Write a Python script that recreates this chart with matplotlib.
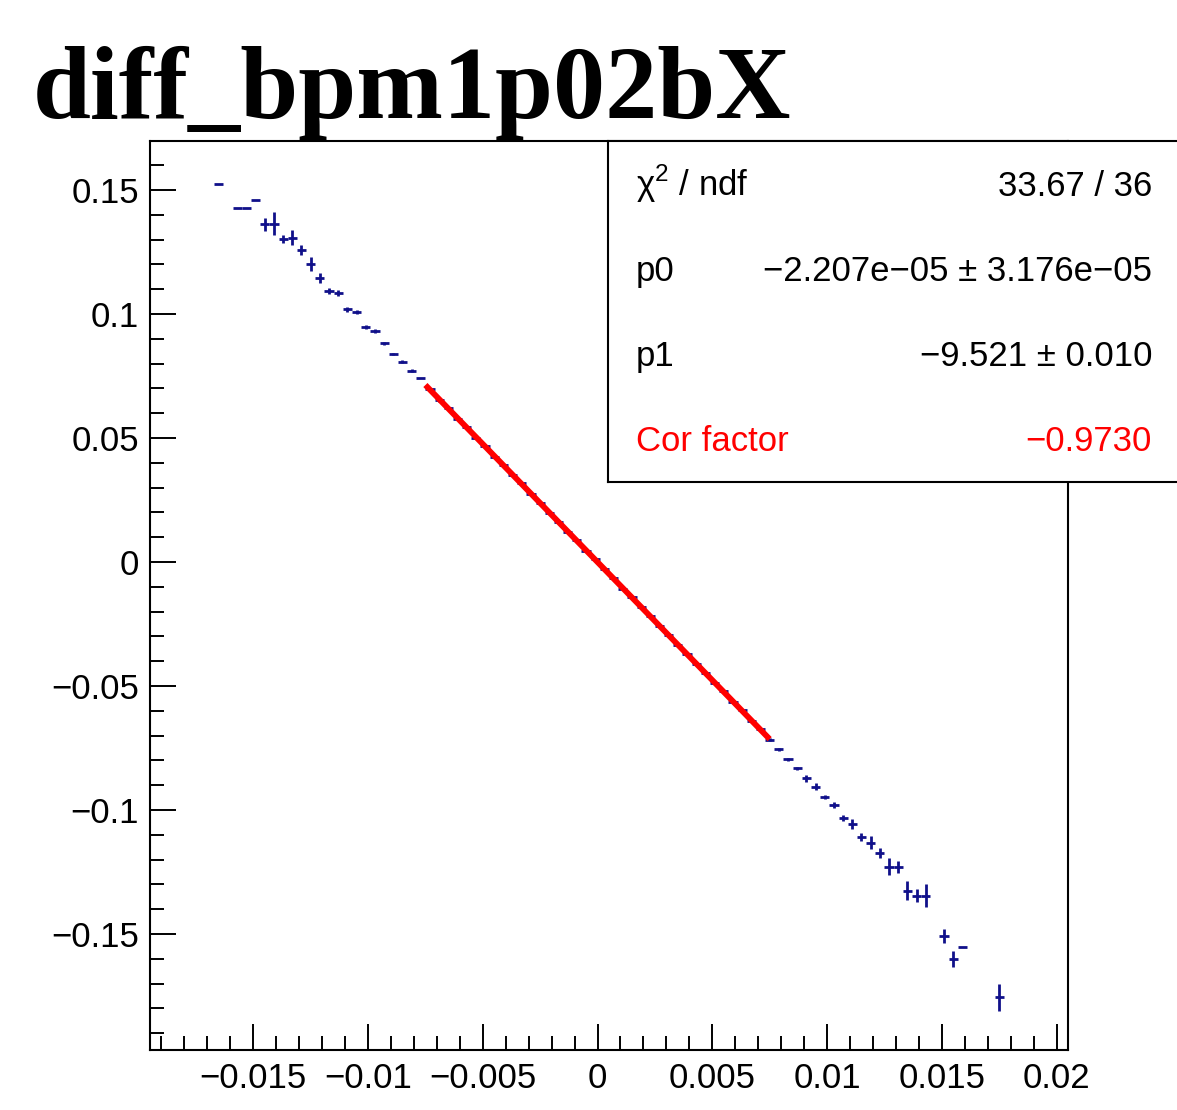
import numpy as np
import matplotlib
matplotlib.use("Agg")
import matplotlib.pyplot as plt
from matplotlib.ticker import MultipleLocator, FixedLocator

# ---------------- data ----------------
title = "diff_bpm1p02bX"
bin_width = 0.0004
x_range = (-0.0195, 0.0205)

# profile bins (bin centres) that have entries
bin_x = [-0.0165, -0.0157, -0.0153, -0.0149, -0.0145, -0.0141, -0.0137, -0.0133,
         -0.0129, -0.0125, -0.0121, -0.0117, -0.0113, -0.0109, -0.0105, -0.0101,
         -0.0097, -0.0093, -0.0089, -0.0085, -0.0081, -0.0077,
         -0.0073, -0.0069, -0.0065, -0.0061, -0.0057, -0.0053, -0.0049, -0.0045,
         -0.0041, -0.0037, -0.0033, -0.0029, -0.0025, -0.0021, -0.0017, -0.0013,
         -0.0009, -0.0005, -0.0001, 0.0003, 0.0007, 0.0011, 0.0015, 0.0019,
         0.0023, 0.0027, 0.0031, 0.0035, 0.0039, 0.0043, 0.0047, 0.0051,
         0.0055, 0.0059, 0.0063, 0.0067, 0.0071, 0.0075,
         0.0079, 0.0083, 0.0087, 0.0091, 0.0095, 0.0099, 0.0103, 0.0107,
         0.0111, 0.0115, 0.0119, 0.0123, 0.0127, 0.0131, 0.0135, 0.0139,
         0.0143, 0.0151, 0.0155, 0.0159, 0.0175]
bin_y = [0.1525, 0.1429, 0.1429, 0.1461, 0.1362, 0.1364, 0.1302, 0.1308,
         0.1258, 0.1202, 0.1147, 0.1094, 0.1086, 0.1019, 0.1009, 0.0946,
         0.0933, 0.0882, 0.0839, 0.0808, 0.0771, 0.0741,
         0.0697, 0.0652, 0.0622, 0.0578, 0.0545, 0.0501, 0.0469, 0.0425,
         0.0392, 0.0350, 0.0317, 0.0274, 0.0240, 0.0197, 0.0163, 0.0121,
         0.0087, 0.0045, 0.0011, -0.0030, -0.0065, -0.0107, -0.0141, -0.0183,
         -0.0217, -0.0259, -0.0293, -0.0336, -0.0369, -0.0412, -0.0446, -0.0488,
         -0.0521, -0.0565, -0.0598, -0.0640, -0.0674, -0.0716,
         -0.0755, -0.0796, -0.0832, -0.0872, -0.0906, -0.0946, -0.0980, -0.1034,
         -0.1056, -0.1108, -0.1132, -0.1172, -0.1229, -0.1229, -0.1325, -0.1345,
         -0.1345, -0.1508, -0.1602, -0.1551, -0.1755]
bin_err = [0.0, 0.0, 0.0, 0.0, 0.0027, 0.0046, 0.0017, 0.0030,
           0.0019, 0.0027, 0.0020, 0.0012, 0.0012, 0.0009, 0.0009, 0.0008,
           0.0008, 0.0006, 0.0006, 0.0006, 0.0006, 0.0,
           0.0005, 0.0005, 0.0005, 0.0005, 0.0005, 0.0005, 0.0005, 0.0005,
           0.0005, 0.0005, 0.0005, 0.0005, 0.0005, 0.0005, 0.0005, 0.0005,
           0.0005, 0.0005, 0.0005, 0.0005, 0.0005, 0.0005, 0.0005, 0.0005,
           0.0005, 0.0005, 0.0005, 0.0005, 0.0005, 0.0005, 0.0005, 0.0005,
           0.0005, 0.0005, 0.0005, 0.0005, 0.0005, 0.0005,
           0.0006, 0.0006, 0.0007, 0.0015, 0.0015, 0.0008, 0.0012, 0.0012,
           0.0020, 0.0016, 0.0027, 0.0020, 0.0034, 0.0025, 0.0037, 0.0028,
           0.0045, 0.0028, 0.0032, 0.0, 0.0055]

# linear fit result
fit_p0 = -2.207e-05
fit_p1 = -9.521
fit_range = (-0.0075, 0.0075)

stats_labels = ["χ$^{2}$ / ndf", "p0", "p1", "Cor factor"]
stats_values = ["33.67 / 36", "−2.207e−05 ± 3.176e−05", "−9.521 ± 0.010", "−0.9730"]
stats_colors = ["black", "black", "black", "red"]

x_ticks = [-0.015, -0.01, -0.005, 0.0, 0.005, 0.01, 0.015, 0.02]
x_ticklabels = ["−0.015", "−0.01", "−0.005", "0", "0.005", "0.01", "0.015", "0.02"]
y_ticks = [-0.15, -0.1, -0.05, 0.0, 0.05, 0.1, 0.15]
y_ticklabels = ["−0.15", "−0.1", "−0.05", "0", "0.05", "0.1", "0.15"]
y_range = (-0.1968, 0.1698)

# ---------------- figure ----------------
W, H = 1177, 1110
fig = plt.figure(figsize=(W / 100, H / 100), dpi=100)
fig.patch.set_facecolor("white")
sans = ["Liberation Sans", "DejaVu Sans"]
plt.rcParams["mathtext.fontset"] = "custom"
plt.rcParams["mathtext.rm"] = "Liberation Sans"

L, R, T, B = 150, 1068, 141, 1050
ax = fig.add_axes([L / W, 1 - B / H, (R - L) / W, (B - T) / H])
ax.set_xlim(*x_range)
ax.set_ylim(*y_range)

bx = np.array(bin_x)
by = np.array(bin_y)
be = np.array(bin_err)
ax.errorbar(bx, by, xerr=bin_width / 2, yerr=be, fmt="none",
            ecolor="#10108a", elinewidth=2.0, capsize=0, zorder=3)

xf = np.linspace(fit_range[0], fit_range[1], 200)
ax.plot(xf, fit_p0 + fit_p1 * xf, color="red", lw=4.2, zorder=4,
        solid_capstyle="butt")

for s in ax.spines.values():
    s.set_linewidth(1.5)
ax.xaxis.set_major_locator(FixedLocator(x_ticks))
ax.set_xticklabels(x_ticklabels)
ax.yaxis.set_major_locator(FixedLocator(y_ticks))
ax.set_yticklabels(y_ticklabels)
ax.xaxis.set_minor_locator(MultipleLocator(0.001))
ax.yaxis.set_minor_locator(MultipleLocator(0.01))
ax.tick_params(which="both", direction="in", top=False, right=False,
               width=1.4, labelsize=25)
ax.tick_params(which="major", length=19)
ax.tick_params(which="minor", length=10)
ax.tick_params(axis="x", pad=9)
ax.tick_params(axis="y", pad=8)
for lab in ax.get_xticklabels() + ax.get_yticklabels():
    lab.set_fontfamily(sans)

# title
fig.text(33 / W, 1 - 118 / H, title, fontfamily=["Liberation Serif", "DejaVu Serif"],
         fontweight="bold", fontsize=75, ha="left", va="baseline")

# stats box
sx0, sy0, sy1 = 608, 141, 482
sax = fig.add_axes([sx0 / W, 1 - sy1 / H, (W + 20 - sx0) / W, (sy1 - sy0) / H])
sax.set_xticks([])
sax.set_yticks([])
sax.set_facecolor("white")
for s in sax.spines.values():
    s.set_linewidth(1.5)
rows_y = [196, 281, 366, 451]
for lab, val, col, yy in zip(stats_labels, stats_values, stats_colors, rows_y):
    fig.text(636 / W, 1 - yy / H, lab, fontfamily=sans, fontsize=25,
             color=col, ha="left", va="baseline")
    fig.text(1152 / W, 1 - yy / H, val, fontfamily=sans, fontsize=25,
             color=col, ha="right", va="baseline")

fig.savefig("out.png", dpi=100, facecolor="white")
